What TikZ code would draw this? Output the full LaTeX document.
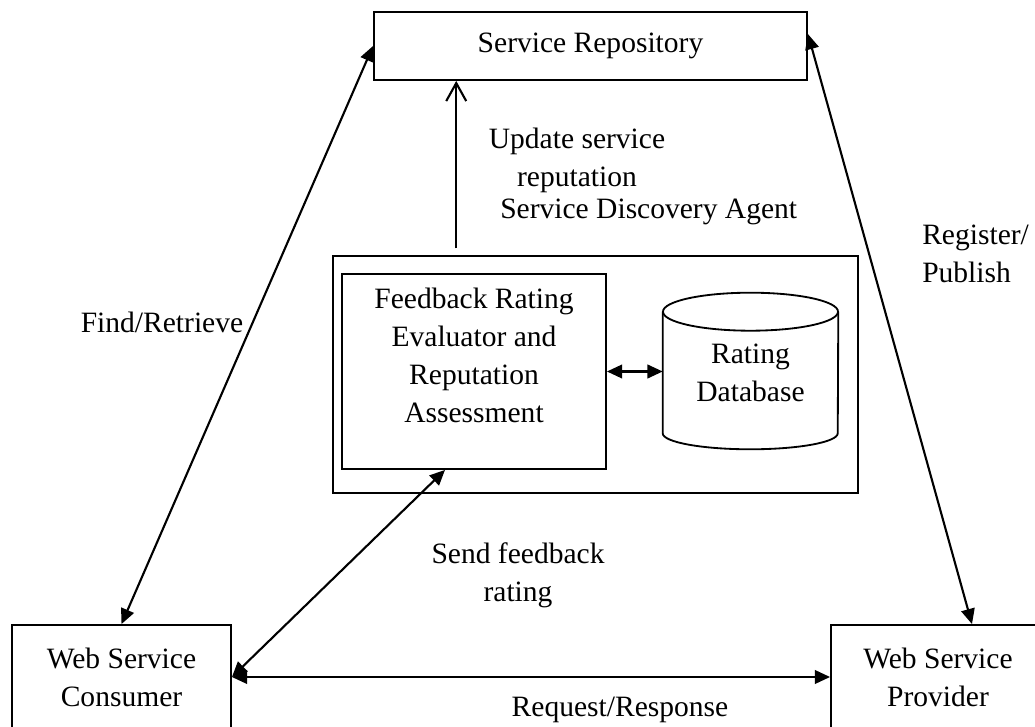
\documentclass[tikz,border=0pt]{standalone}
\usepackage{fontspec}
\setmainfont{Liberation Serif}
\usetikzlibrary{arrows.meta,calc}
\tikzset{
  every node/.style={font=\fontsize{21}{27}\selectfont, inner sep=0pt},
  block/.style={
    draw,
    line width=1.3pt,
    align=center
  },
  link/.style={
    {Triangle[length=0.38cm, width=0.34cm]}-{Triangle[length=0.38cm, width=0.34cm]},
    line width=1.5pt
  },
  uplink/.style={
    -{Straight Barb[length=0.45cm, width=0.5cm]},
    line width=1.5pt
  }
}

\begin{document}
\begin{tikzpicture}[x=0.025cm, y=-0.025cm]
  \useasboundingbox (0,0) rectangle (1035,727);

  % Repository at the top
  \node[block, minimum width=10.825cm, minimum height=1.7cm] (repo) at (590.5,46) {Service Repository};

  % Discovery agent and what sits inside it
  \node[block, line width=1pt, minimum width=13.125cm, minimum height=5.925cm] (agent) at (595.5,374.5) {};
  \node[block, minimum width=6.6cm, minimum height=4.875cm] (evaluator) at (474,371.5) {};
  \node[align=center] (evaltext) at (474,355) {Feedback Rating\\Evaluator and\\Reputation\\Assessment};
  \node[align=center, minimum width=4.375cm, minimum height=3.025cm] (db) at (750.5,372.5) {Rating\\Database};
  \draw[line width=1.3pt] (db.north west) -- (db.south west)
    arc[start angle=180, end angle=360, x radius=2.1875cm, y radius=0.4cm] -- (db.north east);
  \draw[line width=1.3pt] (db.north) ellipse[x radius=2.1875cm, y radius=0.475cm];

  % Consumer and provider
  \node[block, minimum width=5.475cm, minimum height=2.6cm] (consumer) at (121.5,677) {Web Service\\Consumer};
  \node[block, minimum width=5.35cm, minimum height=2.6cm] (provider) at (938,677) {Web Service\\Provider};

  % Labels
  \node[align=center] (updlabel) at (577,160) {Update service\\reputation};
  \node[anchor=west] (agentlabel) at (500,212) {Service Discovery Agent};
  \node (findlabel) at (162,322) {Find/Retrieve};
  \node[align=left, anchor=west] (reglabel) at (922,254) {Register/\\Publish};
  \node[align=center] (sendlabel) at (518,575) {Send feedback\\rating};
  \node (reqlabel) at (620,710) {Request/Response};

  % Connectors
  \draw[link] (consumer.north) -- (repo.west);
  \draw[link] ($(repo.north east)+(0,23)$) -- ($(provider.north)+(34,0)$);
  \draw[link] (consumer.east) -- ($(evaluator.south)+(-29,0)$);
  \draw[link] (consumer.east) -- (provider.west);
  \draw[link] (evaluator.east) -- (evaluator.east -| db.west);
  \coordinate (upfoot) at ($(agent.north west)+(124,-7)$);
  \draw[uplink] (upfoot) -- (upfoot |- repo.south);
\end{tikzpicture}
\end{document}
